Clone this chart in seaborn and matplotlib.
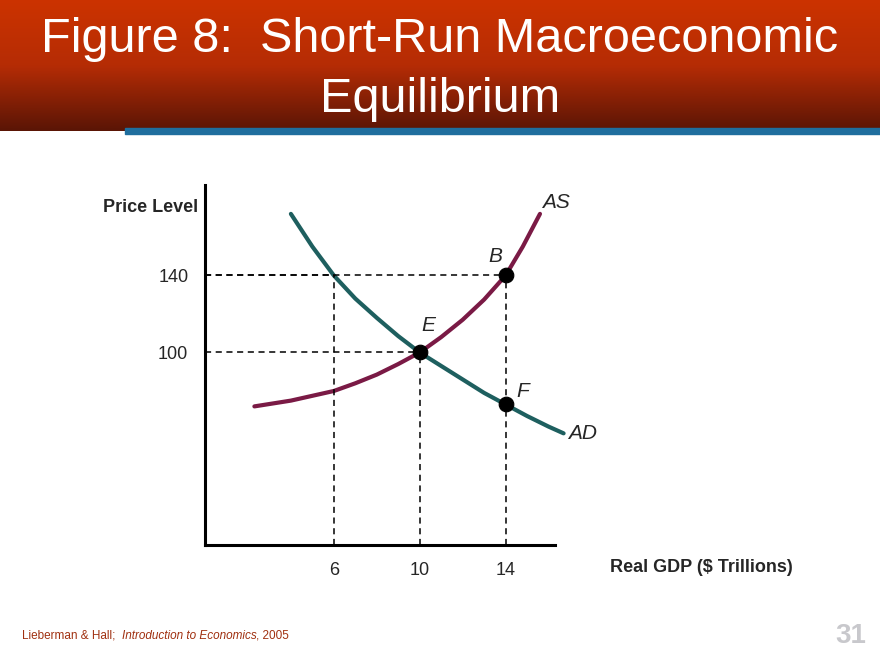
import numpy as np
import pandas as pd
import matplotlib
matplotlib.use("Agg")
import matplotlib.pyplot as plt
import seaborn as sns
from matplotlib.colors import LinearSegmentedColormap

sns.set_theme(style="white")
plt.rcParams['font.family'] = ['Liberation Sans', 'DejaVu Sans']

ad_x = [4, 5, 6, 7, 8, 9, 10, 11, 12, 13, 14, 15, 16, 16.7]
ad_y = [172, 155, 140, 128, 118, 108.5, 100, 93, 86, 79, 73, 67, 61.5, 58]
as_x = [2.3, 4, 6, 7, 8, 9, 10, 11, 12, 13, 14, 14.8, 15.6]
as_y = [72, 75, 80, 84, 88.5, 94, 100, 108, 117, 127.5, 140, 155, 172]
pts_x = [10, 14, 14]
pts_y = [100, 140, 73]
pts_lbl = ["E", "B", "F"]
guide_x = [6, 10, 14]
guide_y = [140, 100, 140]
xticks = [6, 10, 14]
yticks = [100, 140]

W, H = 880, 660
fig = plt.figure(figsize=(8.8, 6.6), dpi=100)

bg = fig.add_axes([0, 0, 1, 1], zorder=0)
bg.set_xlim(0, W); bg.set_ylim(H, 0); bg.axis('off')
grad = np.linspace(0, 1, 200)[:, None]
cm = LinearSegmentedColormap.from_list('h', ['#cc3300', '#b52c05', '#5a1505'])
bg.imshow(grad, cmap=cm, extent=[0, W, 131, 0], aspect='auto')
bg.add_patch(plt.Rectangle((125, 128), W - 125, 6, color='#1f6e9e'))
bg.text(440, 40, "Figure 8:  Short-Run Macroeconomic", color='white', fontsize=35, ha='center', va='center')
bg.text(440, 99, "Equilibrium", color='white', fontsize=35, ha='center', va='center')

# footer pieces placed one after another
fig.canvas.draw()
r = fig.canvas.get_renderer()
xpos = 22
for txt, st in [("Lieberman & Hall; ", 'normal'), ("Introduction to Economics", 'italic'), (", 2005", 'normal')]:
    t = bg.text(xpos, 636, txt, color='#a03010', fontsize=8.5, va='center', style=st)
    ext = t.get_window_extent(renderer=r)
    xpos += ext.width + (3 if txt.endswith(' ') else 0)
bg.text(866, 636, "31", color='#c8c8cc', fontsize=20, fontweight='bold', ha='right', va='center')

ax = fig.add_axes([205 / W, (H - 545) / H, 350 / W, 360 / H], zorder=1)
ax.patch.set_alpha(0)
ax.set_xlim(0, 16.3); ax.set_ylim(0, 187)
sns.lineplot(x=ad_x, y=ad_y, ax=ax, color='#1e5f5f', lw=3, clip_on=False)
sns.lineplot(x=as_x, y=as_y, ax=ax, color='#7a1a45', lw=3, clip_on=False)
for x, y in zip(guide_x, guide_y):
    ax.plot([0, x], [y, y], color='black', lw=1.1, dashes=(4, 3))
    ax.plot([x, x], [0, y], color='black', lw=1.1, dashes=(4, 3))
sns.scatterplot(x=pts_x, y=pts_y, ax=ax, color='black', s=110, zorder=5, edgecolor='black')
offs = {"E": (0.4, 9), "B": (-0.5, 5), "F": (0.8, 2)}
for x, y, l in zip(pts_x, pts_y, pts_lbl):
    dx, dy = offs[l]
    ax.text(x + dx, y + dy, l, fontsize=15, style='italic', ha='center', va='bottom')
ax.text(15.7, 173, "AS", fontsize=15, style='italic', va='bottom')
ax.text(16.9, 58, "AD", fontsize=15, style='italic', va='center')
ax.set_xticks(xticks); ax.set_yticks(yticks)
ax.set_xticklabels([str(v) for v in xticks], fontsize=13)
ax.set_yticklabels([str(v) for v in yticks], fontsize=13)
ax.tick_params(length=0, pad=12)
for s in ['top', 'right']:
    ax.spines[s].set_visible(False)
for s in ['left', 'bottom']:
    ax.spines[s].set_color('black'); ax.spines[s].set_linewidth(2.2)
bg.text(198, 207, "Price Level", fontsize=13, fontweight='bold', ha='right', va='center')
bg.text(793, 567, "Real GDP ($ Trillions)", fontsize=13, fontweight='bold', ha='right', va='center')
fig.savefig("out.png", dpi=100)
